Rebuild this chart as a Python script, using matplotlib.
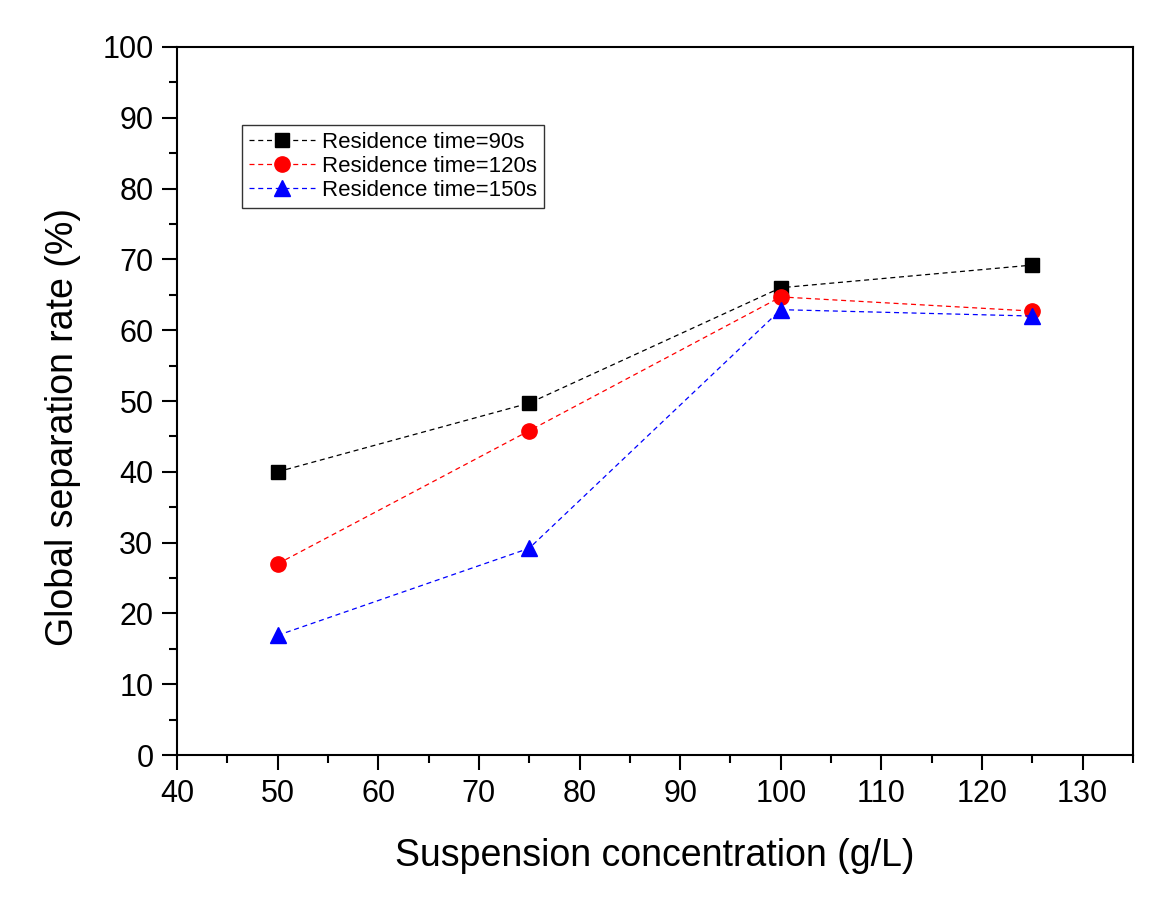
import numpy as np
import matplotlib
matplotlib.use('Agg')
from matplotlib import pyplot as plt
from matplotlib.ticker import MultipleLocator

plt.rcParams['font.family'] = ['Liberation Sans', 'DejaVu Sans']

# 数据
conc = [50, 75, 100, 125]
rate_90 = [40.0, 49.7, 66.0, 69.2]
rate_120 = [27.0, 45.8, 64.7, 62.7]
rate_150 = [16.9, 29.2, 62.9, 62.0]
labels = ['Residence time=90s', 'Residence time=120s', 'Residence time=150s']

fig = plt.figure(figsize=(11.55, 8.97), dpi=100)
ax = fig.add_axes([177/1155, 1-755/897, (1133-177)/1155, (755-47)/897])

ax.plot(conc, rate_90, '--', color='black', marker='s', markersize=10, lw=0.9, dashes=(4, 3), label=labels[0])
ax.plot(conc, rate_120, '--', color='red', marker='o', markersize=11, lw=0.9, dashes=(4, 3), label=labels[1])
ax.plot(conc, rate_150, '--', color='blue', marker='^', markersize=11, lw=0.9, dashes=(4, 3), label=labels[2])

ax.set_xlim(40, 135)
ax.set_ylim(0, 100)
ax.xaxis.set_major_locator(MultipleLocator(10))
ax.xaxis.set_minor_locator(MultipleLocator(5))
ax.yaxis.set_major_locator(MultipleLocator(10))
ax.yaxis.set_minor_locator(MultipleLocator(5))
ax.tick_params(which='both', direction='out', top=False, right=False, width=1.5)
ax.tick_params(which='major', length=11, labelsize=22, pad=6)
ax.tick_params(which='minor', length=6)
for s in ax.spines.values():
    s.set_linewidth(1.5)

ax.set_xlabel('Suspension concentration (g/L)', fontsize=27, labelpad=21)
ax.set_ylabel('Global separation rate (%)', fontsize=27)
ax.yaxis.set_label_coords(-0.100, 0.463)

leg = ax.legend(loc='upper left', bbox_to_anchor=(0.068, 0.890), borderaxespad=0, fontsize=16,
                frameon=True, fancybox=False, edgecolor='black', handlelength=3,
                borderpad=0.3, labelspacing=0.15, handletextpad=0.3)
leg.get_frame().set_linewidth(1.0)

plt.savefig('out.png', dpi=100)
